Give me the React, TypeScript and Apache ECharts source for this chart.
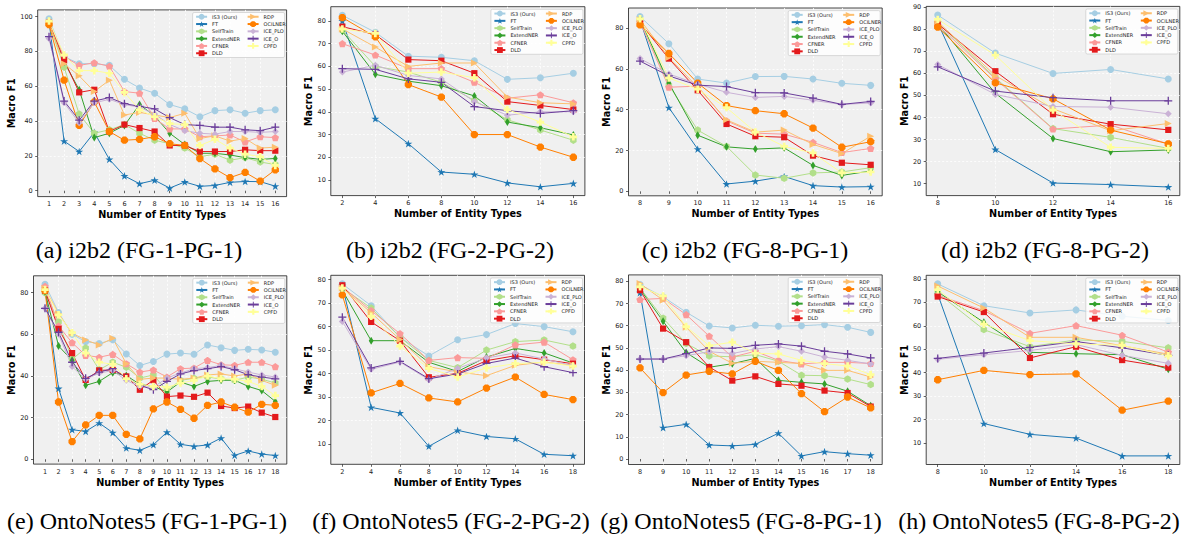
import React, { useEffect, useRef } from "react";
import * as echarts from "echarts";

const methods = ["IS3 (Ours)", "FT", "SelfTrain", "ExtendNER", "CFNER", "DLD", "RDP", "OCILNER", "ICE_PLO", "ICE_O", "CPFD"];

const captions = [
  "(a) i2b2 (FG-1-PG-1)",
  "(b) i2b2 (FG-2-PG-2)",
  "(c) i2b2 (FG-8-PG-1)",
  "(d) i2b2 (FG-8-PG-2)",
  "(e) OntoNotes5 (FG-1-PG-1)",
  "(f) OntoNotes5 (FG-2-PG-2)",
  "(g) OntoNotes5 (FG-8-PG-1)",
  "(h) OntoNotes5 (FG-8-PG-2)",
];

const xA = [1, 2, 3, 4, 5, 6, 7, 8, 9, 10, 11, 12, 13, 14, 15, 16];
const valsA = [
  [98.8, 77, 73, 73, 72, 64, 59, 56, 49.5, 47, 42.5, 46, 46.5, 44.5, 46, 46.5],
  [97.5, 28.5, 22.5, 33.5, 18, 8.5, 4, 6, 1.5, 5, 2.5, 3, 4.8, 5.3, 5.2, 2.6],
  [96, 71, 44, 33, 35, 38, 33, 29, 27, 24.5, 19.5, 21, 17.5, 19, 16.5, 15],
  [97, 74, 58, 30.5, 33, 37.5, 49.5, 43, 33, 26.5, 21.5, 21.5, 20.5, 19, 18, 18.5],
  [97, 77, 72, 73.5, 71.5, 57, 56, 41.5, 35.5, 35.5, 31, 31.5, 32, 28, 31, 30.5],
  [96.5, 75, 56.5, 58, 34, 38, 36, 34, 26, 26, 22.5, 22.5, 22.5, 23.5, 23, 23],
  [96.5, 73, 66, 57, 63.5, 43.5, 45, 43.5, 42, 44.5, 30, 31.5, 28.5, 30, 24.5, 25],
  [95.5, 63.5, 37.5, 51, 34, 29, 29.5, 31, 27, 26, 18.5, 12.5, 7.5, 10.5, 5.5, 12],
  [87.5, 50.5, 39, 50.5, 52.5, 49.5, 48, 44, 38, 34.5, 33, 32.5, 34, 34, 33.5, 34],
  [88.5, 51.5, 40.5, 51.5, 53.5, 50, 48.5, 47, 42, 38, 37.5, 36.5, 36.5, 35, 34.5, 36.5],
  [97.5, 78, 69, 69, 67.5, 56.5, 46.5, 42.5, 38.5, 38, 26, 29.5, 24.5, 21, 19.5, 14.5],
];

const xB = [2, 4, 6, 8, 10, 12, 14, 16];
const valsB = [
  [82.5, 75, 64.5, 64, 62.5, 54.3, 55, 57],
  [80, 37, 26, 13.5, 12.5, 8.7, 7, 8.5],
  [76, 60, 57.5, 53, 45, 36.5, 32, 27.5],
  [75.5, 56.5, 53.5, 51.5, 47, 35.5, 33, 29.8],
  [70, 65, 59, 59, 53, 46, 47.5, 44],
  [77.5, 74, 63, 62.5, 57, 44.5, 42.8, 41],
  [76.5, 68.5, 60, 61.5, 61.5, 46.5, 44, 43.5],
  [81.5, 73, 52, 46.5, 30, 30, 24.5, 20],
  [57.5, 60.5, 56, 54.5, 44.5, 38.5, 40, 40],
  [59, 58.7, 54.5, 53, 42.3, 40.5, 39.3, 40.5],
  [76.5, 74.5, 57, 57.5, 55, 41, 35.5, 29],
];

const xC = [8, 9, 10, 11, 12, 13, 14, 15, 16];
const valsC = [
  [85.6, 72.3, 55, 53, 56.2, 56.3, 55, 52.9, 51.9],
  [84, 41, 20.7, 3.6, 5, 7.3, 2.8, 2.1, 2.3],
  [84, 52, 30, 22, 8, 6.4, 9, 9.5, 11.6],
  [84.5, 53, 27.5, 21.8, 20.7, 21.3, 12.7, 7.8, 10],
  [83, 51, 51.5, 34.5, 28.5, 28, 24, 19, 21],
  [82.5, 65, 49.5, 33, 27, 26.5, 17.5, 14, 13],
  [84, 65.5, 51, 35, 29, 30, 23, 18.5, 27],
  [81.5, 67.5, 53, 42, 39.5, 38, 31, 21.6, 24.3],
  [65, 57.5, 52.5, 48.5, 46, 46.5, 44.6, 42.5, 43.3],
  [63.8, 56.5, 52, 51.3, 48.3, 48.2, 45.6, 42.6, 44],
  [84.5, 55.5, 50, 41, 29, 22, 18.8, 9, 9.5],
];

const xD = [8, 10, 12, 14, 16];
const valsD = [
  [86.5, 69.2, 60, 61.8, 57.5],
  [83, 25.5, 10.3, 9.6, 8.5],
  [83, 58, 35, 31, 26],
  [82.5, 51, 30.5, 24.5, 25.3],
  [82, 57.5, 34.8, 36.6, 28],
  [82.5, 61, 41.5, 37, 34.4],
  [83.5, 59, 44, 34, 37.3],
  [81, 55.7, 48.5, 34.3, 28.1],
  [64, 50.5, 45, 44.7, 41.7],
  [63, 52, 49, 47.6, 47.6],
  [84.5, 68.3, 43.4, 26.5, 26],
];

const xE = [1, 2, 3, 4, 5, 6, 7, 8, 9, 10, 11, 12, 13, 14, 15, 16, 17, 18];
const valsE = [
  [84, 70.5, 60, 56.5, 55.6, 57.4, 50.6, 45, 47, 50.5, 51, 50.4, 54.9, 53.6, 52.3, 52.8, 52.5, 51.4],
  [82, 34, 14.2, 13.4, 17.4, 12.8, 5.4, 4.3, 7, 13, 7.2, 6.2, 6.9, 10.2, 1.9, 4, 2.5, 1.8],
  [80, 66, 48, 53.4, 43, 46.6, 44.2, 39, 40.5, 33, 37.9, 38.9, 39.5, 38.6, 37.9, 39.5, 38.5, 36.6],
  [80.5, 54.4, 47.5, 35.5, 37.4, 41.6, 40.2, 36, 35, 32.3, 37.1, 35, 37.4, 37.9, 38, 35, 33, 27.8],
  [83, 64, 56, 49.9, 49, 50.4, 45.9, 41.9, 42.9, 39.5, 43.5, 43.8, 47.5, 45.4, 45.1, 46.6, 46.6, 44.5],
  [81, 62.6, 51, 38.1, 42.7, 42.9, 39.8, 33.4, 38, 30.1, 30.6, 30, 32, 25.6, 24.6, 25.3, 22.4, 20.3],
  [82, 69.9, 60.5, 57.3, 54.9, 58.1, 45.9, 38.4, 39, 39, 38.4, 39, 40.5, 41, 40, 41, 37.9, 35.5],
  [81, 27.5, 8.5, 16.5, 21.1, 21.1, 12, 9.8, 24.2, 27.5, 24, 19.7, 25.9, 27.5, 25, 22.6, 26.4, 25.9],
  [72.5, 60, 44.5, 38.4, 41.4, 42.6, 37.9, 34.9, 34.6, 39, 41.4, 43.5, 44, 45.1, 43.5, 41.9, 40.5, 39.5],
  [72.5, 61, 46.6, 38.9, 41.9, 43.5, 39, 35.5, 33.4, 37.4, 41, 42.6, 43.5, 44.5, 43, 40.6, 39.5, 38.6],
  [81.5, 69.4, 60.8, 51, 46.6, 45.6, 38.7, 36, 35, 34.6, 36.6, 37.9, 40, 38.7, 38.4, 37.4, 35, 30.6],
];

const xF = [2, 4, 6, 8, 10, 12, 14, 16, 18];
const valsF = [
  [78.2, 68.9, 55.4, 47.5, 54.4, 56.6, 61.3, 60, 57.8],
  [77.5, 25.6, 23.2, 9, 15.8, 13.2, 12.2, 5.6, 5],
  [76.5, 67.9, 55.5, 45.6, 42.5, 50, 53.6, 54.3, 51.7],
  [75.5, 54, 54, 44.8, 40.9, 47, 50.7, 48.8, 44.5],
  [77, 66.8, 57, 45.6, 46.8, 46.5, 52.2, 53.4, 45.9],
  [77.6, 62, 54, 38.4, 40.1, 45.5, 47.6, 45.9, 44.2],
  [76.5, 65.9, 54.5, 42.9, 40.7, 39.1, 43.5, 44.9, 43.5],
  [73.5, 31.8, 35.8, 29.6, 27.9, 33.8, 38.5, 31.1, 28.9],
  [62.2, 41.8, 44.9, 37.4, 42.2, 46.6, 48.8, 46.2, 43.4],
  [64, 42.4, 45.2, 37.8, 39.8, 44.3, 46.6, 42.9, 40.4],
  [76.4, 64.4, 51.7, 42.2, 38.5, 42.4, 44.2, 44.8, 43.2],
];

const xG = [8, 9, 10, 11, 12, 13, 14, 15, 16, 17, 18];
const valsG = [
  [78.5, 73, 66.1, 59.9, 59, 60.2, 59.8, 60, 60.5, 59.3, 57],
  [74.9, 14.1, 15.6, 6.3, 5.9, 6.6, 11.6, 1.4, 3.3, 2.4, 1.7],
  [77, 63.4, 52, 46.4, 46, 47, 44, 37.7, 37.5, 36, 33.5],
  [76.5, 62, 47.9, 41.3, 42.9, 45.3, 35.4, 34.5, 33.8, 30.5, 24],
  [71.8, 72.3, 65, 55.3, 45.9, 48.5, 44.4, 42.8, 43.5, 43.5, 43],
  [76, 58.7, 52.6, 41.4, 35.3, 37.2, 33.8, 33, 30.8, 29.7, 23.6],
  [79, 71.5, 59.3, 48.5, 43.1, 44, 43.5, 43, 39.9, 39.9, 36.9],
  [41, 29.9, 37.8, 39.5, 38.3, 44, 39.9, 29.4, 21.3, 27.9, 23],
  [45, 45, 46.5, 48.3, 47.5, 49.5, 50.6, 48.5, 45.9, 44.4, 42.8],
  [45, 45, 47.4, 50, 49.8, 51.2, 51.8, 50.8, 48.5, 47.3, 45.5],
  [77.5, 73.4, 59.6, 51, 52.6, 47.6, 47.3, 44.4, 42.9, 41.9, 38],
];

const xH = [8, 10, 12, 14, 16, 18];
const valsH = [
  [77.9, 68.6, 65.5, 66.8, 64.1, 62.3],
  [73.5, 18.3, 13.7, 12.1, 4.5, 4.5],
  [74, 58.4, 51.1, 54, 53.4, 50.6],
  [74.5, 61.5, 48.7, 48.1, 47.7, 41.5],
  [73, 66.5, 56.8, 60.1, 56, 48.8],
  [72.5, 65.9, 46.3, 51.1, 45.4, 42.2],
  [77, 67.6, 55.1, 55.1, 51.5, 47.9],
  [37, 41, 39.2, 39.5, 24, 27.9],
  [45.7, 47.7, 49.5, 52, 47.4, 44],
  [46.1, 48.4, 50.8, 53.3, 50.6, 47.4],
  [75.4, 60.7, 53.7, 52.3, 51.7, 47.2],
];

const panelX = [xA, xB, xC, xD, xE, xF, xG, xH];
const panelVals = [valsA, valsB, valsC, valsD, valsE, valsF, valsG, valsH];

// ---------- styling / layout (not data) ----------
const colors = ["#a6cee3", "#1f78b4", "#b2df8a", "#33a02c", "#fb9a99", "#e31a1c", "#fdbf6f", "#ff7f00", "#cab2d6", "#6a3d9a", "#ffff99"];

const P = (d: string) => "path://" + d;
const starPath = "M50 0 L61.17 34.63 L97.55 34.55 L68.07 55.87 L79.39 90.45 L50 69 L20.61 90.45 L31.93 55.87 L2.45 34.55 L38.83 34.63 Z";
const hexPath = "M50 0 L93.3 25 L93.3 75 L50 100 L6.7 75 L6.7 25 Z";
const thinDiamondPath = "M50 0 L80 50 L50 100 L20 50 Z";
const pentPath = "M50 0 L97.55 34.55 L79.39 90.45 L20.61 90.45 L2.45 34.55 Z";
const triPath = "M0 0 L100 50 L0 100 Z";
const octPath = "M96.2 69.1 L69.1 96.2 L30.9 96.2 L3.8 69.1 L3.8 30.9 L30.9 3.8 L69.1 3.8 L96.2 30.9 Z";
const plusPath = "M42 0 H58 V42 H100 V58 H58 V100 H42 V58 H0 V42 H42 Z";
const fplusPath = "M32 0 H68 V32 H100 V68 H68 V100 H32 V68 H0 V32 H32 Z";

const symbols = ["circle", P(starPath), P(hexPath), P(thinDiamondPath), P(pentPath), "rect", P(triPath), P(octPath), "diamond", P(plusPath), P(fplusPath)];
const symbolSizes = [7, 8, 7.5, 8, 7.5, 6.2, 7, 7.3, 7, 8, 7.5];

const layouts = [
  { box: [37.7, 9.9, 248.9, 186.7], xr: [0.25, 16.75, 1], yr: [-3.4, 103.9, 20], yGap: 21.5, cap: [139, 249.5] },
  { box: [330.8, 6.7, 254.1, 188.9], xr: [1.3, 16.7, 2], yr: [3.12, 86.28, 10], yGap: 16.7, cap: [450, 249.5] },
  { box: [628.5, 8.0, 253.7, 187.8], xr: [7.6, 16.4, 1], yr: [-2.18, 89.78, 20], yGap: 16.4, cap: [745, 249.5] },
  { box: [926.2, 6.4, 253.6, 189.2], xr: [7.6, 16.4, 2], yr: [4.6, 90.4, 10], yGap: 16.4, cap: [1045, 249.5] },
  { box: [33.5, 275.8, 253.3, 188.3], xr: [0.15, 18.85, 1], yr: [-2.31, 88.11, 20], yGap: 17, cap: [147, 521] },
  { box: [330.8, 275.3, 253.7, 189], xr: [1.2, 18.8, 2], yr: [1.34, 81.86, 10], yGap: 17, cap: [451, 521] },
  { box: [628.5, 274.9, 253.7, 189.6], xr: [7.5, 18.5, 1], yr: [-2.48, 82.88, 10], yGap: 16.4, cap: [741, 521] },
  { box: [926.2, 275.3, 253.6, 189.2], xr: [7.5, 18.5, 2], yr: [0.83, 81.57, 10], yGap: 16.4, cap: [1039, 521] },
];

const FONT = "DejaVu Sans";

function stepTicks(min: number, max: number, step: number) {
  const out: number[] = [];
  for (let v = Math.ceil(min / step - 1e-9) * step; v <= max + 1e-9; v += step) out.push(Math.round(v * 1000) / 1000);
  return out;
}

function makeFormatter(step: number) {
  return (v: number) => {
    const r = v / step;
    return Math.abs(r - Math.round(r)) < 1e-6 ? String(Math.round(v)) : "";
  };
}

function buildOption() {
  const grid: any[] = [];
  const xAxis: any[] = [];
  const yAxis: any[] = [];
  const series: any[] = [];
  const legend: any[] = [];
  const graphic: any[] = [];

  layouts.forEach((L, i) => {
    const [left, top, width, height] = L.box;
    grid.push({ left, top, width, height, show: true, backgroundColor: "#f0f0f0", borderColor: "#1a1a1a", borderWidth: 0.8, containLabel: false });
    const xs = panelX[i];
    const [xmin, xmax, xstep] = L.xr;
    const [ymin, ymax, ystep] = L.yr;
    const yTicks = stepTicks(ymin, ymax, ystep);
    const splitStyle = { show: true, showMinLine: false, showMaxLine: false, lineStyle: { color: "#ffffff", width: 0.8, type: [2, 2] } };
    xAxis.push({
      type: "value", gridIndex: i, min: xmin, max: xmax, minInterval: xstep, maxInterval: xstep,
      axisLine: { show: false },
      axisTick: { show: true, length: 2.5, customValues: xs, lineStyle: { color: "#222", width: 0.7 } },
      axisLabel: { show: true, customValues: xs, fontSize: 6.5, color: "#222", fontFamily: FONT, margin: 4, formatter: makeFormatter(xstep), showMinLabel: true, showMaxLabel: true },
      splitLine: splitStyle,
      name: "Number of Entity Types", nameLocation: "middle", nameGap: 13,
      nameTextStyle: { fontWeight: "bold", fontSize: 9.7, fontFamily: FONT, color: "#000" },
    });
    yAxis.push({
      type: "value", gridIndex: i, min: ymin, max: ymax, minInterval: ystep, maxInterval: ystep,
      axisLine: { show: false },
      axisTick: { show: true, length: 2.5, customValues: yTicks, lineStyle: { color: "#222", width: 0.7 } },
      axisLabel: { show: true, customValues: yTicks, fontSize: 6.5, color: "#222", fontFamily: FONT, margin: 5, formatter: makeFormatter(ystep) },
      splitLine: splitStyle,
      name: "Macro F1", nameLocation: "middle", nameGap: L.yGap, nameRotate: 90,
      nameTextStyle: { fontWeight: "bold", fontSize: 9.7, fontFamily: FONT, color: "#000" },
    });
    const vals = panelVals[i];
    methods.forEach((m, k) => {
      series.push({
        type: "line", name: m, xAxisIndex: i, yAxisIndex: i,
        data: xs.map((x, j) => [x, vals[k][j]]),
        symbol: symbols[k], symbolSize: symbolSizes[k], symbolKeepAspect: true, showSymbol: true,
        lineStyle: { width: 1, color: colors[k] },
        itemStyle: { color: colors[k], borderWidth: 0 },
        emphasis: { disabled: true },
        z: 2,
      });
    });
    // legend box
    const boxW = 92, boxH = 45;
    const boxRight = left + width - 2;
    const boxLeft = boxRight - boxW;
    const boxTop = top + 2.6;
    graphic.push({
      type: "rect", z: 3, silent: true,
      shape: { x: boxLeft, y: boxTop, width: boxW, height: boxH, r: 1.5 },
      style: { fill: "rgba(255,255,255,0.82)", stroke: "#cccccc", lineWidth: 0.7 },
    });
    const legendCommon = {
      orient: "vertical", itemWidth: 11, itemHeight: 7.3, itemGap: 0, padding: 0, selectedMode: false, z: 4,
      textStyle: { fontSize: 5, fontFamily: FONT, color: "#222", lineHeight: 7.3 },
    };
    legend.push({ ...legendCommon, left: boxLeft + 2.5, top: boxTop + 0.6, data: methods.slice(0, 6) });
    legend.push({ ...legendCommon, left: boxLeft + 54, top: boxTop + 0.6, data: methods.slice(6) });
    // caption
    graphic.push({
      type: "text", z: 5, silent: true, x: L.cap[0], y: L.cap[1],
      style: {
        text: captions[i], fill: "#000", font: '24px "Liberation Serif"',
        fontSize: 24, fontFamily: "Liberation Serif",
        align: "center", verticalAlign: "middle", textAlign: "center", textVerticalAlign: "middle",
      },
    });
  });

  return {
    animation: false,
    backgroundColor: "#ffffff",
    textStyle: { fontFamily: FONT },
    grid, xAxis, yAxis, series, legend, graphic,
  };
}

export default function App() {
  const ref = useRef<HTMLDivElement>(null);
  useEffect(() => {
    if (!ref.current) return;
    const chart = echarts.init(ref.current, undefined, { renderer: "svg" });
    chart.setOption(buildOption() as any);
    return () => chart.dispose();
  }, []);
  return <div ref={ref} style={{ position: "fixed", left: 0, top: 0, width: 1182, height: 537, background: "#fff" }} />;
}
